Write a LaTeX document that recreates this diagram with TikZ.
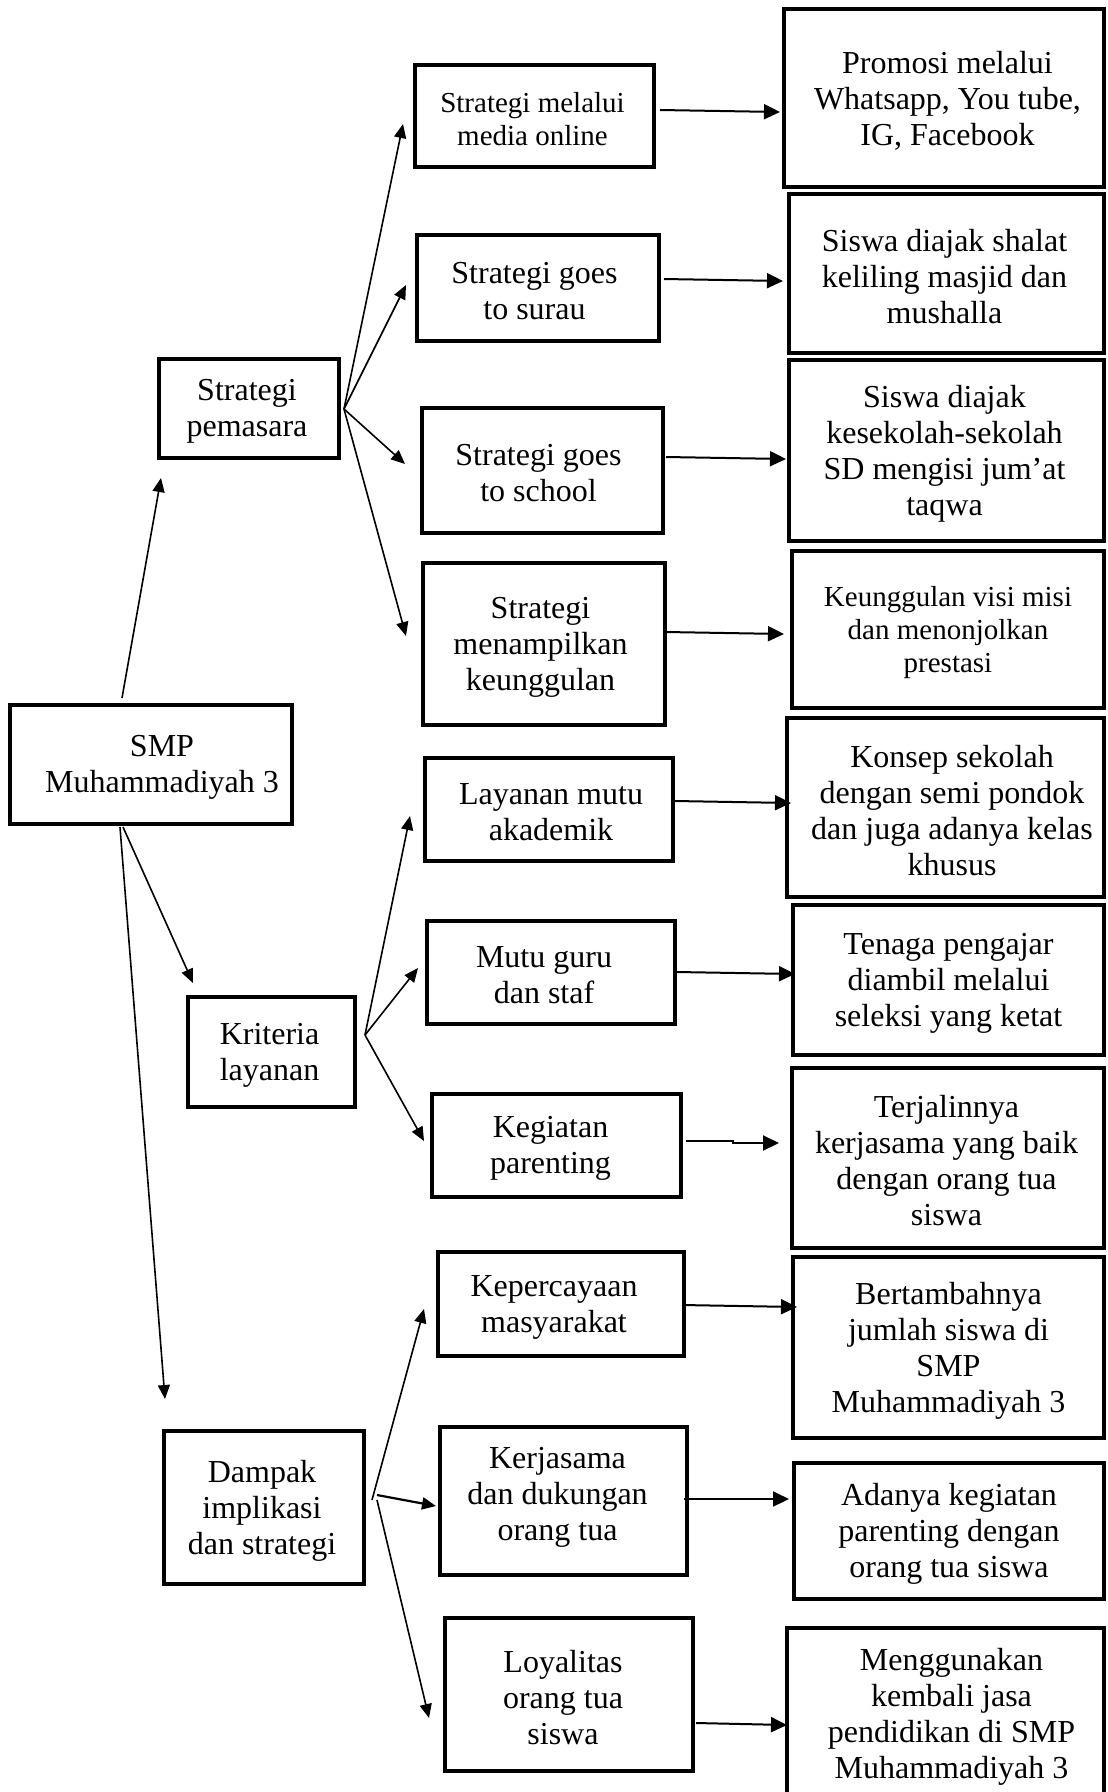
\documentclass[tikz,border=0pt]{standalone}
\usepackage{fontspec}
\setmainfont{Liberation Serif}
\usetikzlibrary{arrows.meta}
% #1 text style, #2 name, #3 cx, #4 cy, #5 width, #6 height, #7 text x offset, #8 text
\newcommand\mkbox[8][btxt]{%
  \node[bframe, minimum width=#5pt, minimum height=#6pt] (#2) at (#3,#4) {};
  \node[#1] (#2t) at (#3+#7,#4+3) {#8};}
\begin{document}
\begin{tikzpicture}[x=1pt,y=-1pt,
  bframe/.style={draw, line width=4pt, inner sep=0pt},
  btxt/.style={align=center, inner sep=0pt, font=\fontsize{32}{36}\selectfont},
  stxt/.style={btxt, font=\fontsize{29}{33}\selectfont},
  harr/.style={line width=2pt, -{Triangle[length=16pt,width=15pt]}},
  farr/.style={line width=1.6pt, -{Triangle[length=14pt,width=12pt]}}]
\clip (0,0) rectangle (1108,1792);
\fill[white] (0,0) rectangle (1108,1792);

% left column
\mkbox{smp}{151}{764.5}{282}{119}{11}{SMP\\Muhammadiyah 3}
\mkbox{pem}{249}{408.5}{180}{99}{-2}{Strategi\\pemasara}
\mkbox{kri}{271.5}{1052}{167}{110}{-2}{Kriteria\\layanan}
\mkbox{dam}{264}{1507.5}{200}{153}{-2}{Dampak\\implikasi\\dan strategi}

% middle column
\mkbox[stxt]{med}{534.5}{116}{239}{102}{-2}{Strategi melalui\\media online}
\mkbox{sur}{538}{288}{242}{106}{-3.5}{Strategi goes\\to surau}
\mkbox{sch}{542.5}{470.5}{241}{125}{-4}{Strategi goes\\to school}
\mkbox{men}{544}{644}{242}{162}{-3.5}{Strategi\\menampilkan\\keunggulan}
\mkbox{lay}{549}{809.5}{248}{103}{2}{Layanan mutu\\akademik}
\mkbox{mut}{551}{972.5}{248}{103}{-7}{Mutu guru\\dan staf}
\mkbox{keg}{556.5}{1145.5}{249}{103}{-6}{Kegiatan\\parenting}
\mkbox{kep}{561}{1304}{246}{104}{-7}{Kepercayaan\\masyarakat}
\node[bframe, minimum width=247pt, minimum height=148pt] (ker) at (563.5,1501) {};
\node[btxt] (kert) at (557.5,1497) {Kerjasama\\dan dukungan\\orang tua};
\mkbox{loy}{569}{1694.5}{248}{153}{-6}{Loyalitas\\orang tua\\siswa}

% right column
\mkbox{pro}{944}{98}{320}{178}{3.5}{Promosi melalui\\Whatsapp, You tube,\\IG, Facebook}
\mkbox{sha}{946.5}{273.5}{315}{159}{-2}{Siswa diajak shalat\\keliling masjid dan\\mushalla}
\mkbox{kes}{946.5}{450.5}{315}{181}{-2}{Siswa diajak\\kesekolah-sekolah\\SD mengisi jum’at\\taqwa}
\mkbox[stxt]{keu}{948}{629.5}{312}{157}{0}{Keunggulan visi misi\\dan menonjolkan\\prestasi}
\mkbox{kon}{945.5}{807.5}{317}{179}{6.5}{Konsep sekolah\\dengan semi pondok\\dan juga adanya kelas\\khusus}
\mkbox{ten}{948.5}{980}{311}{150}{0}{Tenaga pengajar\\diambil melalui\\seleksi yang ketat}
\mkbox{ter}{948}{1158}{312}{180}{-1.5}{Terjalinnya\\kerjasama yang baik\\dengan orang tua\\siswa}
\mkbox{ber}{948.5}{1347.5}{311}{181}{0}{Bertambahnya\\jumlah siswa di\\SMP\\Muhammadiyah 3}
\mkbox{ada}{949}{1531}{310}{136}{0}{Adanya kegiatan\\parenting dengan\\orang tua siswa}
\mkbox{mng}{945.5}{1714}{317}{172}{6}{Menggunakan\\kembali jasa\\pendidikan di SMP\\Muhammadiyah 3}

% connector end points
\coordinate (smpup) at (122,698);
\coordinate (smpdn) at (123,827);
\coordinate (smpdn2) at (120,827);
\coordinate (pemin) at (161,478);
\coordinate (kriin) at (193,983);
\coordinate (damin) at (165,1399);
\coordinate (pemf) at (344,409);
\coordinate (medin) at (403,124);
\coordinate (surin) at (406,285);
\coordinate (schin) at (405,464);
\coordinate (menin) at (406,636);
\coordinate (krif) at (365,1035);
\coordinate (layin) at (410,816);
\coordinate (mutin) at (418,968);
\coordinate (kegin) at (424,1141);
\coordinate (damf) at (372,1500);
\coordinate (damf2) at (377,1495);
\coordinate (damf3) at (377,1500);
\coordinate (kepin) at (424,1309);
\coordinate (kerin) at (436,1506);
\coordinate (loyin) at (429,1718);

\coordinate (medout) at (660,110);  \coordinate (proin) at (780,112);
\coordinate (surout) at (664,279);  \coordinate (shain) at (783,281);
\coordinate (schout) at (666,457);  \coordinate (kesin) at (786,459);
\coordinate (menout) at (666,632);  \coordinate (keuin) at (784,634);
\coordinate (layout) at (675,801);  \coordinate (konin) at (791,803);
\coordinate (mutout) at (677,972);  \coordinate (tenin) at (795,974);
\coordinate (kegout) at (686,1141); \coordinate (kegj1) at (733,1141);
\coordinate (kegj2) at (733,1143);  \coordinate (terin) at (779,1143);
\coordinate (kepout) at (682,1305); \coordinate (berin) at (797,1307);
\coordinate (kerout) at (684,1499); \coordinate (adain) at (789,1499);
\coordinate (loyout) at (696,1723); \coordinate (mngin) at (787,1725);

% fan connectors
\draw[farr] (smpup) -- (pemin);
\draw[farr] (smpdn) -- (kriin);
\draw[farr] (smpdn2) -- (damin);
\draw[farr] (pemf) -- (medin);
\draw[farr] (pemf) -- (surin);
\draw[farr] (pemf) -- (schin);
\draw[farr] (pemf) -- (menin);
\draw[farr] (krif) -- (layin);
\draw[farr] (krif) -- (mutin);
\draw[farr] (krif) -- (kegin);
\draw[farr] (damf) -- (kepin);
\draw[farr, line width=2.2pt] (damf2) -- (kerin);
\draw[farr] (damf3) -- (loyin);

% horizontal connectors
\draw[harr] (medout) -- (proin);
\draw[harr] (surout) -- (shain);
\draw[harr] (schout) -- (kesin);
\draw[harr] (menout) -- (keuin);
\draw[harr] (layout) -- (konin);
\draw[harr] (mutout) -- (tenin);
\draw[harr] (kegout) -- (kegj1) -- (kegj2) -- (terin);
\draw[harr] (kepout) -- (berin);
\draw[harr] (kerout) -- (adain);
\draw[harr] (loyout) -- (mngin);
\end{tikzpicture}
\end{document}
